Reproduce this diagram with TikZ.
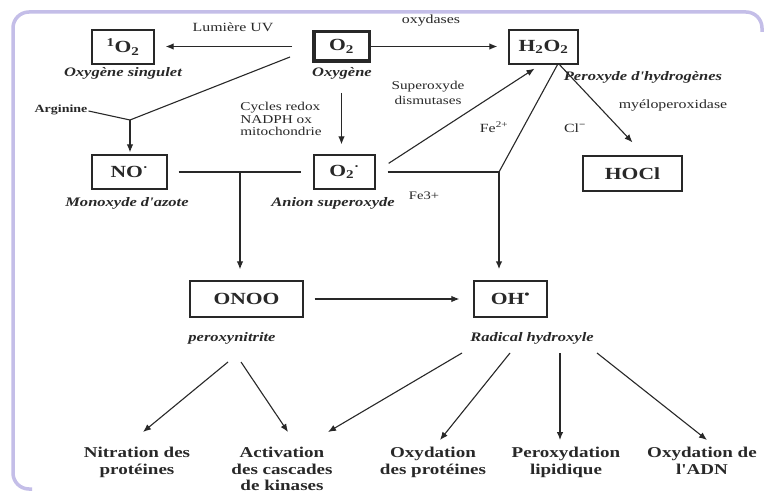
\documentclass[tikz,border=0pt]{standalone}
\usepackage{fontspec}
\defaultfontfeatures[\rmfamily]{}
\setmainfont{Liberation Serif}[FakeStretch=1.27]
\usetikzlibrary{arrows.meta}
\definecolor{framecol}{RGB}{196,190,232}
\definecolor{ink}{RGB}{40,40,40}
\tikzset{
  box/.style={draw=ink, line width=1.3pt, inner sep=0pt, text=ink,
    font=\fontsize{17}{19}\bfseries\selectfont},
  speclbl/.style={inner sep=1pt, text=ink, font=\fontsize{13}{15}\bfseries\itshape\selectfont},
  smalltxt/.style={inner sep=1pt, text=ink, font=\fontsize{12.5}{12.5}\selectfont},
  result/.style={inner sep=0pt, anchor=north, align=center, text=ink,
    font=\fontsize{15}{16.5}\bfseries\selectfont},
  conn/.style={draw=ink, line width=1.1pt},
  arr/.style={conn, -{Latex[length=8pt,width=6.5pt]}},
  frameline/.style={draw=framecol, line width=3.5pt}
}
\begin{document}
\begin{tikzpicture}[x=1pt,y=-1pt]
\useasboundingbox (0,0) rectangle (766,495);
\fill[white] (0,0) rectangle (766,495);
\draw[frameline, rounded corners=16pt] (762,32) |- (13,12) |- (32,489);

% boxes
\node[box, minimum width=62pt, minimum height=34pt] (O1) at (123,47) {\textsuperscript{1}O\textsubscript{2}};
\node[box, line width=3.5pt, minimum width=55.5pt, minimum height=29.5pt] (O2) at (341.5,46.5) {O\textsubscript{2}};
\node[box, minimum width=69pt, minimum height=34pt] (H2O2) at (543.5,47) {H\textsubscript{2}O\textsubscript{2}};
\node[box, minimum width=75pt, minimum height=34pt] (NO) at (129.5,172) {NO\textsuperscript{·}};
\node[box, minimum width=61pt, minimum height=34pt] (O2m) at (344.5,172) {O\textsubscript{2}\textsuperscript{·}};
\node[box, minimum width=99pt, minimum height=35pt] (HOCl) at (632.5,173.5) {HOCl\hspace{20pt}};
\node[box, minimum width=113pt, minimum height=36pt] (ONOO) at (246.5,299) {ONOO\hspace{18pt}};
\node[box, minimum width=73pt, minimum height=36pt] (OH) at (510.5,299) {OH\textsuperscript{•}};

% species names
\node[speclbl] (lO1) at (123,73) {Oxygène singulet};
\node[speclbl] (lO2) at (342,73) {Oxygène};
\node[speclbl] (lH2O2) at (643,77) {Peroxyde d'hydrogènes};
\node[speclbl] (lNO) at (127,203) {Monoxyde d'azote};
\node[speclbl] (lO2m) at (333,203) {Anion superoxyde};
\node[speclbl] (lONOO) at (232,338) {peroxynitrite};
\node[speclbl] (lOH) at (532,338) {Radical hydroxyle};

% small labels
\node[smalltxt] (uv) at (233,27) {Lumière UV};
\node[smalltxt] (oxy) at (431,21) {oxydases};
\node[smalltxt, align=center, font=\fontsize{12}{14.5}\selectfont] (sod) at (428,93) {Superoxyde\\dismutases};
\node[smalltxt] (myelo) at (673,106) {myéloperoxidase};
\node[smalltxt] (fe2) at (494,127) {Fe\textsuperscript{2+}};
\node[smalltxt] (cl) at (575,128) {Cl\textsuperscript{\textbf{−}}};
\node[smalltxt, font=\fontsize{11.5}{12}\selectfont] (fe3) at (424,196) {Fe3+};
\node[smalltxt, align=left, font=\fontsize{12}{12.5}\selectfont] (cyc) at (281,119) {Cycles redox\\NADPH ox\\mitochondrie};
\node[smalltxt, font=\fontsize{11}{12}\bfseries\selectfont] (arg) at (61,110) {Arginine};

% results
\node[result] (nit) at (137,447) {Nitration des\\protéines};
\node[result] (act) at (282,447) {Activation\\des cascades\\de kinases};
\node[result] (oxp) at (433,447) {Oxydation\\des protéines};
\node[result] (perox) at (566,447) {Peroxydation\\lipidique};
\node[result] (adn) at (702,447) {Oxydation de\\l'ADN};

% junctions
\coordinate (jA) at (130,120);
\coordinate (jN) at (240,172);
\coordinate (jF) at (499,172);
\coordinate (pA) at (228,362);
\coordinate (pB) at (241,362);
\coordinate (hA) at (462,353);
\coordinate (hB) at (510,353);
\coordinate (hC) at (560,353);
\coordinate (hD) at (597,353);

% connectors
\draw[arr, shorten <=20pt, shorten >=11pt] (O2.west) -- (O2.west -| O1.east);
\draw[arr, shorten >=11pt] (O2.east) -- (O2.east -| H2O2.west);
\draw[conn] ([shift={(-22pt,6pt)}]O2.south west) -- (jA);
\draw[conn] ([yshift=-1pt]arg.east) -- (jA);
\draw[arr, shorten >=2pt] (jA) -- (jA |- NO.north);
\draw[arr, shorten <=30pt, shorten >=10pt] (O2.south) -- (O2.south |- O2m.north);
\draw[conn, shorten <=11pt, shorten >=12pt] (NO.east) -- (O2m.west);
\draw[arr, shorten >=11pt] (jN) -- (jN |- ONOO.north);
\draw[conn, shorten <=12pt] (O2m.east) -- (jF);
\draw[conn] (jF) -- ([xshift=14pt]H2O2.south);
\draw[arr, line width=1.8pt, shorten >=11pt] (jF) -- (jF |- OH.north);
\draw[arr] ([shift={(13pt,-9pt)}]O2m.north east) -- ([shift={(-9pt,-4pt)}]H2O2.south);
\draw[arr] ([xshift=16pt]H2O2.south) -- ([yshift=13pt]HOCl.north);
\draw[arr, shorten <=11pt, shorten >=14pt] (ONOO.east) -- (OH.west);

\draw[arr] (pA) -- ([shift={(6pt,15pt)}]nit.north);
\draw[arr] (pB) -- ([shift={(6pt,15pt)}]act.north);
\draw[arr] (hA) -- ([shift={(46pt,15pt)}]act.north);
\draw[arr] (hB) -- ([shift={(7pt,7pt)}]oxp.north);
\draw[arr] (hC) -- ([shift={(-6pt,7pt)}]perox.north);
\draw[arr] (hD) -- ([shift={(5pt,7pt)}]adn.north);
\end{tikzpicture}
\end{document}
